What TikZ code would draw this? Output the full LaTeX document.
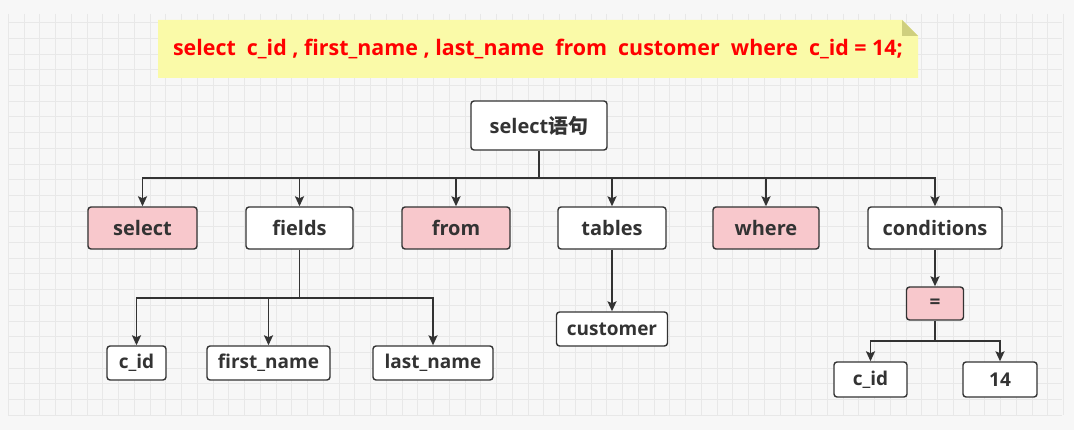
\documentclass[tikz,border=0pt]{standalone}
\usepackage{fontspec}
\setmainfont{Open Sans}
\newfontfamily\cjk{Noto Sans CJK SC}
\usetikzlibrary{arrows.meta}
\definecolor{inkgray}{HTML}{333333}
\definecolor{keypink}{HTML}{F8C8CC}
\definecolor{noteyellow}{HTML}{FAFAA8}
\definecolor{notefold}{HTML}{CFCF7E}
\definecolor{sqlred}{HTML}{FF0000}
\definecolor{paper}{HTML}{F7F7F7}
\definecolor{gridline}{HTML}{E8E8E8}
\begin{document}
\begin{tikzpicture}[x=1pt,y=-1pt,%
  box/.style={draw=inkgray,line width=1.4pt,rounded corners=3pt,fill=white,text=inkgray,%
    font=\fontsize{20}{24}\selectfont\bfseries,inner sep=0pt,minimum height=42pt},%
  keybox/.style={box,fill=keypink},%
  leaf/.style={box,minimum height=34pt,font=\fontsize{19}{23}\selectfont\bfseries},%
  link/.style={draw=inkgray,line width=1.9pt},%
  arrow/.style={link,-{Stealth[length=10pt,width=9pt,inset=2pt]}}]%
\useasboundingbox (0,0) rectangle (1074,430);%
\fill[paper] (0,0) rectangle (1074,430);%
%
% grid
\foreach \i in {0,...,67} \draw[gridline,line width=0.8pt] ({8.3+15.75*\i},14) -- ({8.3+15.75*\i},415);%
\foreach \j in {0,...,25} \draw[gridline,line width=0.8pt] (8,{22.7+15.7*\j}) -- (1062,{22.7+15.7*\j});%
%
% sql note
\fill[noteyellow] (158,20) -- (902,20) -- (918,36) -- (918,78) -- (158,78) -- cycle;%
\fill[notefold] (902,20) -- (918,36) -- (902,36) -- cycle;%
\node[text=sqlred,font=\fontsize{21.4}{25}\selectfont\bfseries] (sql) at (538,49)%
  {select~~c\_id , first\_name , last\_name~~from~~customer~~where~~c\_id = 14;};%
%
% tree
\node[box,minimum width=136pt,minimum height=49pt] (root) at (539,125.5) {select{\cjk\bfseries 语句}};%
\coordinate (busroot) at (539,178);%
%
\node[keybox,minimum width=109pt] (kwselect) at (142.5,228) {select};%
\node[box,minimum width=107pt] (fields) at (299.5,228) {fields};%
\node[keybox,minimum width=108pt] (kwfrom) at (456,228) {from};%
\node[box,minimum width=108pt] (tables) at (612,228) {tables};%
\node[keybox,minimum width=106pt] (kwwhere) at (766,228) {where};%
\node[box,minimum width=134pt] (conds) at (935,228) {conditions};%
%
\coordinate (busfields) at (299.5,298);%
\node[leaf,minimum width=59pt] (fid) at (136.5,363) {c\_id};%
\node[leaf,minimum width=123pt] (ffirst) at (268.5,363) {first\_name};%
\node[leaf,minimum width=120pt] (flast) at (433,363) {last\_name};%
%
\node[leaf,minimum width=111pt] (tcust) at (612,329) {customer};%
%
\node[leaf,fill=keypink,minimum width=57pt,minimum height=33pt] (eq) at (935,303.5) {=};%
\coordinate (buseq) at (935,341);%
\node[leaf,minimum width=73pt,minimum height=35pt] (cid) at (870.5,379.5) {c\_id};%
\node[leaf,minimum width=74pt,minimum height=35pt] (cval) at (1000,379.5) {14};%
%
% connectors
\draw[link] (root.south) -- (busroot);%
\foreach \n in {kwselect,fields,kwfrom,tables,kwwhere,conds} \draw[arrow] (busroot) -| (\n.north);%
\draw[link] (fields.south) -- (busfields);%
\foreach \n in {fid,ffirst,flast} \draw[arrow] (busfields) -| (\n.north);%
\draw[arrow] (tables.south) -- (tcust.north);%
\draw[arrow] (conds.south) -- (eq.north);%
\draw[link] (eq.south) -- (buseq);%
\foreach \n in {cid,cval} \draw[arrow] (buseq) -| (\n.north);%
%
\end{tikzpicture}
\end{document}
